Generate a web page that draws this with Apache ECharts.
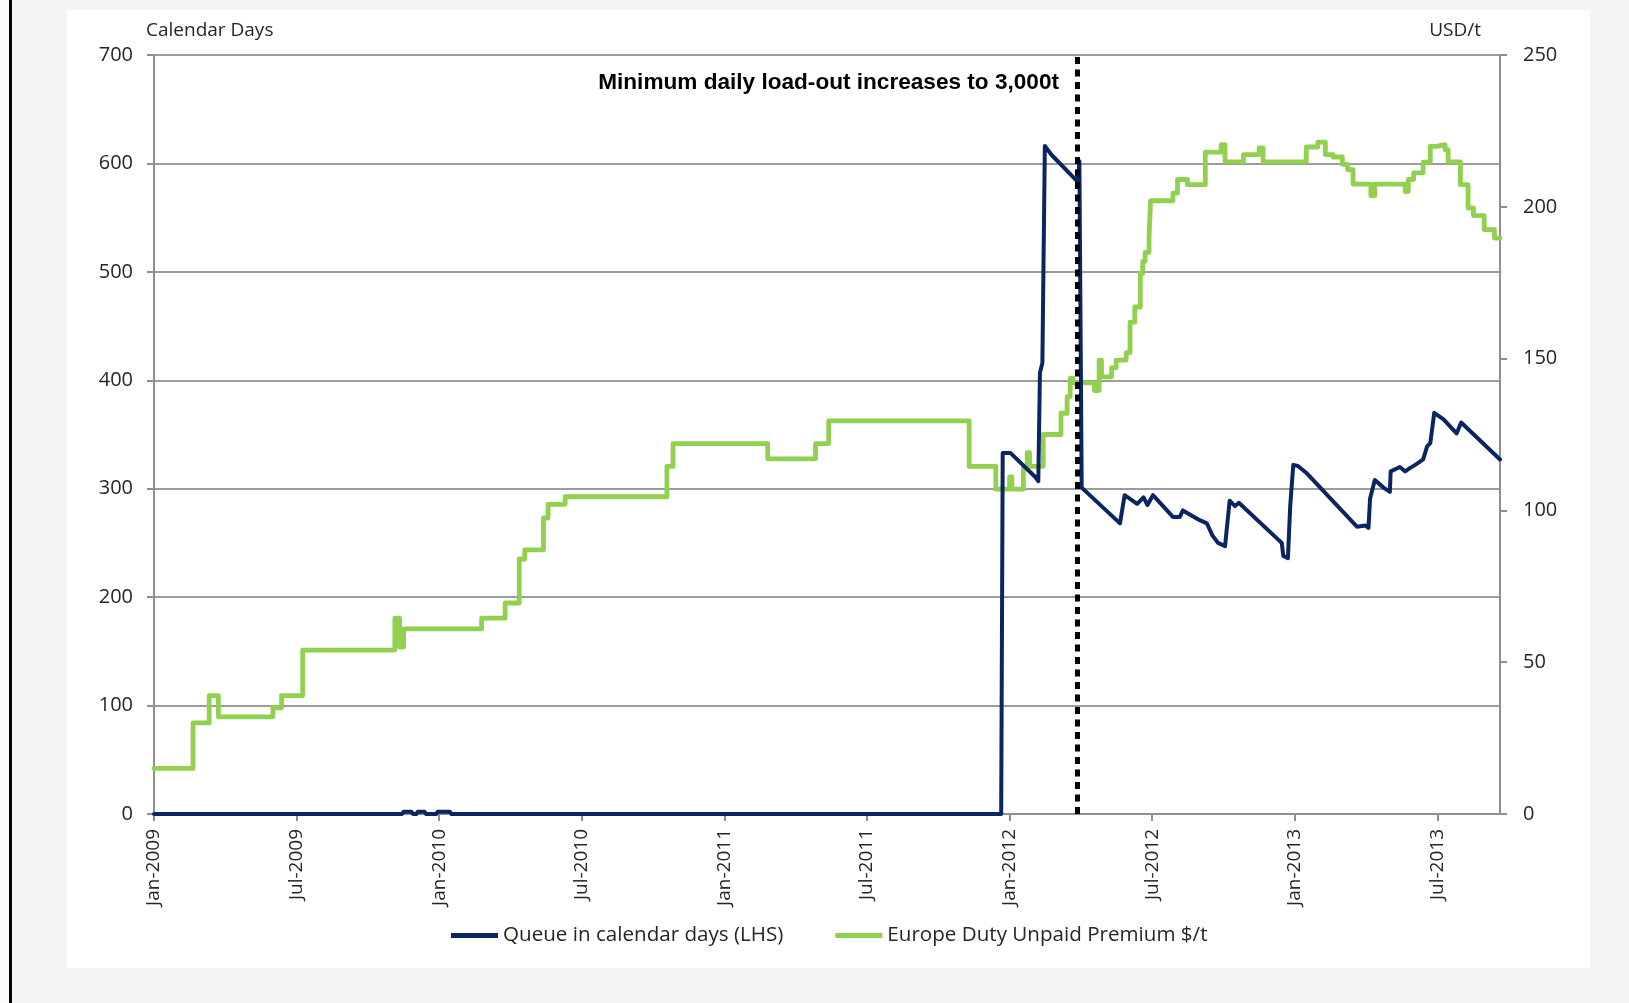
<!DOCTYPE html>
<html>
<head>
<meta charset="utf-8">
<title>Queue vs Europe Duty Unpaid Premium</title>
<script src="https://cdn.jsdelivr.net/npm/echarts@6/dist/echarts.min.js"></script>
<style>
  html, body { margin: 0; padding: 0; width: 1629px; height: 1003px; overflow: hidden; background: #f4f4f4; }
  #edge  { position: absolute; left: 0; top: 0; width: 9px; height: 1003px; background: #fbfbfb; }
  #rule  { position: absolute; left: 9px; top: 0; width: 3px; height: 1003px; background: #000; }
  #panel { position: absolute; left: 67px; top: 10px; width: 1523px; height: 958px; background: #fff; }
  #chart { position: absolute; left: 0; top: 0; width: 1629px; height: 1003px; }
</style>
</head>
<body>
<div id="edge"></div>
<div id="rule"></div>
<div id="panel"></div>
<div id="chart"></div>
<script>
// Half-yearly axis labels, one every six months from Jan-2009
const xTickLabels = ['Jan-2009', 'Jul-2009', 'Jan-2010', 'Jul-2010', 'Jan-2011',
                     'Jul-2011', 'Jan-2012', 'Jul-2012', 'Jan-2013', 'Jul-2013'];
const axisStartDate = '2009-01-01';
const axisEndDate = '2013-09-20';
const loadOutChangeDate = '2012-03-27';

// Queue in calendar days (left axis)
const queueDates = [
  '2009-01-01', '2009-11-14', '2009-11-16', '2009-11-26', '2009-11-28', '2009-12-02',
  '2009-12-04', '2009-12-13', '2009-12-15', '2009-12-28', '2009-12-30', '2010-01-15',
  '2010-01-17', '2011-12-21', '2011-12-23', '2012-01-02', '2012-02-03', '2012-02-07',
  '2012-02-09', '2012-02-12', '2012-02-15', '2012-02-23', '2012-03-28', '2012-03-30',
  '2012-04-02', '2012-05-21', '2012-05-27', '2012-06-12', '2012-06-20', '2012-06-25',
  '2012-07-02', '2012-07-28', '2012-08-06', '2012-08-10', '2012-09-01', '2012-09-10',
  '2012-09-17', '2012-09-24', '2012-10-03', '2012-10-09', '2012-10-16', '2012-10-21',
  '2012-12-09', '2012-12-15', '2012-12-17', '2012-12-23', '2012-12-26', '2012-12-30',
  '2013-01-05', '2013-01-17', '2013-03-20', '2013-03-31', '2013-04-04', '2013-04-06',
  '2013-04-12', '2013-04-23', '2013-05-01', '2013-05-02', '2013-05-14', '2013-05-21',
  '2013-05-27', '2013-06-03', '2013-06-09', '2013-06-13', '2013-06-18', '2013-06-22',
  '2013-06-27', '2013-07-09', '2013-07-26', '2013-08-01', '2013-09-20'
];
const queueDays = [
  0, 0, 2, 2, 0, 0,
  2, 2, 0, 0, 2, 2,
  0, 0, 333, 333, 311, 307,
  407, 416, 616, 608, 583, 602,
  301, 268, 294, 286, 292, 285,
  294, 274, 274, 280, 271, 268,
  257, 250, 247, 289, 284, 287,
  254, 250, 238, 236, 284, 322,
  321, 314, 265, 266, 264, 291,
  308, 301, 297, 316, 320, 316,
  319, 322, 325, 327, 339, 342,
  370, 364, 351, 361, 327
];

// Europe duty-unpaid premium in USD/t (right axis), each value holds from its date
const premiumDates = [
  '2009-01-01', '2009-02-19', '2009-03-11', '2009-03-23', '2009-06-01', '2009-06-12',
  '2009-07-09', '2009-11-05', '2009-11-11', '2009-11-16', '2010-02-23', '2010-03-25',
  '2010-04-12', '2010-04-19', '2010-05-13', '2010-05-19', '2010-06-10', '2010-10-19',
  '2010-10-27', '2011-02-24', '2011-04-26', '2011-05-13', '2011-11-10', '2011-12-14',
  '2012-01-01', '2012-01-04', '2012-01-19', '2012-01-24', '2012-01-27', '2012-02-13',
  '2012-03-06', '2012-03-14', '2012-03-18', '2012-03-22', '2012-04-18', '2012-04-24',
  '2012-04-27', '2012-05-10', '2012-05-16', '2012-05-29', '2012-06-03', '2012-06-09',
  '2012-06-16', '2012-06-19', '2012-06-22', '2012-06-27', '2012-06-29', '2012-07-28',
  '2012-08-03', '2012-08-16', '2012-09-08', '2012-09-28', '2012-10-03', '2012-10-27',
  '2012-11-16', '2012-11-21', '2013-01-16', '2013-01-31', '2013-02-09', '2013-02-18',
  '2013-03-01', '2013-03-08', '2013-03-15', '2013-04-07', '2013-04-12', '2013-05-21',
  '2013-05-25', '2013-06-01', '2013-06-13', '2013-06-22', '2013-06-30', '2013-07-11',
  '2013-07-15', '2013-07-31', '2013-08-10', '2013-08-17', '2013-08-31', '2013-09-13',
  '2013-09-20'
];
const premiumUsd = [
  15, 30, 39, 32, 35, 39,
  54, 64.5, 55, 61, 64.5, 69.5,
  84, 87, 97.5, 102, 104.5, 114.5,
  122, 117, 122, 129.5, 114.5, 107,
  111, 107, 114.5, 119, 114.5, 125,
  132, 137.5, 143.5, 142, 139.5, 149.5,
  144, 147, 149.5, 152, 162, 167,
  178, 182, 185, 190, 202, 204.5,
  209, 207.3, 218, 220.5, 214.8, 217.2,
  219.4, 214.8, 219.7, 221.3, 217.2, 216.4,
  214, 212.2, 207.5, 203.7, 207.5, 205,
  209, 211.2, 214.7, 219.9, 220.5, 218.8,
  214.8, 207.3, 199.6, 197.1, 192.5, 189.7,
  189.7
];

// Dates are placed on a continuous month scale counted from Jan-2009
const DAYS_IN_MONTH = [31, 28, 31, 30, 31, 30, 31, 31, 30, 31, 30, 31];
function toMonths(iso) {
  const [y, m, d] = iso.split('-').map(Number);
  let dim = DAYS_IN_MONTH[m - 1];
  if (m === 2 && y % 4 === 0) dim = 29;
  return (y - 2009) * 12 + (m - 1) + (d - 1) / dim;
}

const queueData = queueDates.map((d, i) => [toMonths(d), queueDays[i]]);
const premiumData = premiumDates.map((d, i) => [toMonths(d), premiumUsd[i]]);
const tickValues = xTickLabels.map((_, i) => i * 6);

const FONT = '"Open Sans", "Noto Sans", sans-serif';
const TEXT = '#262626';
const AXIS_GREY = '#8f8f8f';
const NAVY = '#0b2462';
const GREEN = '#92d050';

const chart = echarts.init(document.getElementById('chart'), null, { renderer: 'canvas' });

chart.setOption({
  animation: false,
  backgroundColor: 'transparent',
  textStyle: { fontFamily: FONT },
  grid: { left: 154, right: 129, top: 55, bottom: 189, containLabel: false },
  legend: {
    left: 446,
    top: 920,
    icon: 'rect',
    itemWidth: 47,
    itemHeight: 5,
    itemGap: 52,
    textStyle: { fontFamily: FONT, fontSize: 20.6, color: TEXT },
    data: ['Queue in calendar days (LHS)', 'Europe Duty Unpaid Premium $/t']
  },
  xAxis: {
    type: 'value',
    min: toMonths(axisStartDate),
    max: toMonths(axisEndDate),
    splitLine: { show: false },
    axisLine: { show: true, onZero: false, lineStyle: { color: AXIS_GREY, width: 2 } },
    axisTick: { show: true, length: 7, customValues: tickValues, lineStyle: { color: AXIS_GREY, width: 2 } },
    axisLabel: {
      customValues: tickValues,
      rotate: 90,
      margin: 15,
      fontFamily: FONT,
      fontSize: 19,
      color: TEXT,
      formatter: v => xTickLabels[Math.round(v / 6)] || ''
    }
  },
  yAxis: [
    {
      type: 'value',
      min: 0, max: 700, interval: 100,
      position: 'left',
      axisLine: { show: true, lineStyle: { color: AXIS_GREY, width: 2 } },
      axisTick: { show: true, length: 7, lineStyle: { color: AXIS_GREY, width: 2 } },
      axisLabel: { margin: 21, fontFamily: FONT, fontSize: 20, color: TEXT },
      splitLine: { show: true, lineStyle: { color: '#9c9c9c', width: 2 } }
    },
    {
      type: 'value',
      min: 0, max: 250, interval: 50,
      position: 'right',
      axisLine: { show: true, lineStyle: { color: AXIS_GREY, width: 2 } },
      axisTick: { show: true, length: 7, lineStyle: { color: AXIS_GREY, width: 2 } },
      axisLabel: { margin: 23, fontFamily: FONT, fontSize: 20, color: TEXT },
      splitLine: { show: false }
    }
  ],
  graphic: [
    {
      type: 'text', x: 146, y: 31,
      style: { text: 'Calendar Days', font: '19px ' + FONT, fill: TEXT, align: 'left', verticalAlign: 'middle' }
    },
    {
      type: 'text', x: 1481, y: 31,
      style: { text: 'USD/t', font: '19px ' + FONT, fill: TEXT, align: 'right', verticalAlign: 'middle' }
    },
    {
      type: 'text', x: 1059, y: 83, z: 100,
      style: {
        text: 'Minimum daily load-out increases to 3,000t',
        font: 'bold 22.6px "Liberation Sans", Arial, sans-serif',
        fill: '#000', align: 'right', verticalAlign: 'middle'
      }
    }
  ],
  series: [
    {
      name: 'Europe Duty Unpaid Premium $/t',
      type: 'line',
      yAxisIndex: 1,
      step: 'end',
      z: 2,
      showSymbol: false,
      symbol: 'none',
      lineStyle: { color: GREEN, width: 4.8, join: 'round', cap: 'round' },
      itemStyle: { color: GREEN },
      data: premiumData
    },
    {
      name: 'Queue in calendar days (LHS)',
      type: 'line',
      yAxisIndex: 0,
      z: 3,
      showSymbol: false,
      symbol: 'none',
      lineStyle: { color: NAVY, width: 4, join: 'round', cap: 'round' },
      itemStyle: { color: NAVY },
      data: queueData,
      markLine: {
        silent: true,
        symbol: ['none', 'none'],
        label: { show: false },
        lineStyle: { color: '#000', width: 5, type: [7, 5.5] },
        data: [{ xAxis: toMonths(loadOutChangeDate) }]
      }
    }
  ]
});
</script>
</body>
</html>
